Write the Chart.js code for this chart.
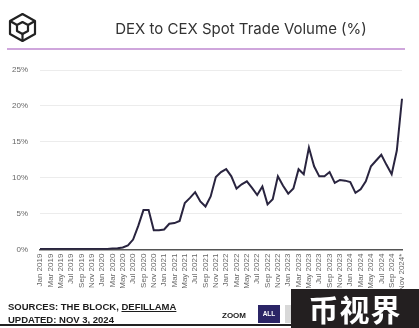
<!DOCTYPE html>
<html>
<head>
<meta charset="utf-8">
<script src="https://cdn.jsdelivr.net/npm/chart.js@4"></script>
<style>
  html, body { margin: 0; padding: 0; background: #fff; }
  body { width: 419px; height: 328px; position: relative; overflow: hidden; font-family: "Liberation Sans", Arial, sans-serif; }
  #wrap { position: absolute; left: 0; top: 0; width: 419px; height: 328px; }
  #title { position: absolute; left: 60px; width: 362px; top: 19px; text-align: center; font-family: "Inter", "Noto Sans", sans-serif; font-size: 15px; color: #333; }
  #rule { position: absolute; left: 7px; width: 398px; top: 48px; height: 2px; background: #cfa6dc; }
  #logo { position: absolute; left: 7px; top: 12px; }
  #src { position: absolute; left: 8px; top: 300px; font-weight: bold; font-size: 9.5px; color: #1c1c1c; line-height: 13px; }
  #src u { text-decoration: underline; }
  #zoom { position: absolute; left: 222px; top: 311px; font-weight: bold; font-size: 8px; color: #1c1c1c; }
  #all { position: absolute; left: 258px; top: 305px; width: 22px; height: 18px; background: #2b2566; color: #fff; font-size: 6.5px; font-weight: bold; text-align: center; line-height: 18px; }
  #gray { position: absolute; left: 285px; top: 305px; width: 14px; height: 18px; background: #d8d8d8; }
  #bline { position: absolute; left: 0; top: 324px; width: 300px; height: 2px; background: #222; }
  #wm { position: absolute; left: 291px; top: 289px; width: 128px; height: 39px; background: #231f20; color: #fff; font-family: "Noto Sans CJK SC", sans-serif; font-weight: bold; font-size: 30px; line-height: 39px; text-align: center; letter-spacing: 1px; }
</style>
</head>
<body>
<div id="wrap"><canvas id="c" width="419" height="328"></canvas></div>
<svg id="logo" width="31" height="31" viewBox="0 0 31 31">
  <g fill="none" stroke="#222" stroke-width="2.2" stroke-linejoin="round">
    <polygon points="15.5,2 28,9 28,22 15.5,29 3,22 3,9"/>
    <polygon points="15.5,10 21,13 21,19 15.5,22 10,19 10,13"/>
    <line x1="3" y1="9" x2="10" y2="13"/>
    <line x1="28" y1="9" x2="21" y2="13"/>
    <line x1="15.5" y1="29" x2="15.5" y2="22"/>
  </g>
</svg>
<div id="title">DEX to CEX Spot Trade Volume (%)</div>
<div id="rule"></div>
<div id="src">SOURCES: THE BLOCK, <u>DEFILLAMA</u><br>UPDATED: NOV 3, 2024</div>
<div id="zoom">ZOOM</div>
<div id="all">ALL</div>
<div id="gray"></div>
<div id="bline"></div>
<div id="wm">币视界</div>
<script>
const months = ["Jan","Feb","Mar","Apr","May","Jun","Jul","Aug","Sep","Oct","Nov","Dec"];
const categories = [];
for (let y = 2019; y <= 2024; y++) {
  for (let m = 0; m < 12; m++) {
    if (y === 2024 && m > 10) break;
    categories.push(months[m] + " " + y + ((y === 2024 && m === 10) ? "*" : ""));
  }
}
const dexToCexPct = [
  0.1, 0.1, 0.1, 0.1, 0.1, 0.1, 0.1, 0.1, 0.1, 0.1, 0.1, 0.1,
  0.1, 0.1, 0.15, 0.2, 0.3, 0.6, 1.4, 3.3, 5.5, 5.5, 2.7, 2.7,
  2.8, 3.6, 3.7, 4.0, 6.5, 7.2, 8.0, 6.7, 6.0, 7.4, 10.1, 10.8,
  11.2, 10.2, 8.5, 9.1, 9.5, 8.6, 7.6, 8.8, 6.3, 7.0, 10.2, 8.9,
  7.8, 8.5, 11.2, 10.5, 14.2, 11.6, 10.2, 10.2, 10.8, 9.3, 9.7, 9.6,
  9.4, 7.9, 8.4, 9.5, 11.6, 12.4, 13.2, 11.8, 10.5, 13.8, 21.0
];
const yTicks = [0, 5, 10, 15, 20, 25];

new Chart(document.getElementById('c'), {
  type: 'line',
  data: {
    labels: categories,
    datasets: [{
      data: dexToCexPct,
      borderColor: '#29243f',
      borderWidth: 2,
      pointRadius: 0,
      tension: 0,
      fill: false
    }]
  },
  options: {
    responsive: false,
    animation: false,
    layout: { padding: { top: 70, left: 0, right: 17, bottom: 33 } },
    plugins: { legend: { display: false }, tooltip: { enabled: false }, title: { display: false } },
    scales: {
      x: {
        offset: false,
        grid: { display: false, drawTicks: false },
        border: { display: true, color: '#555', width: 1.5 },
        ticks: {
          autoSkip: false,
          maxRotation: 90,
          minRotation: 90,
          padding: 4,
          color: '#666',
          font: { size: 8, family: 'Liberation Sans' },
          callback: function(v, i) { return i % 2 === 0 ? categories[i] : ''; }
        }
      },
      y: {
        min: 0,
        max: 25,
        afterBuildTicks: (ax) => { ax.ticks = yTicks.map(v => ({ value: v })); },
        grid: { color: '#ececec', drawTicks: false },
        border: { display: false },
        ticks: {
          padding: 12,
          color: '#666',
          font: { size: 8, family: 'Liberation Sans' },
          callback: (v) => v + '%'
        }
      }
    }
  }
});
</script>
</body>
</html>
